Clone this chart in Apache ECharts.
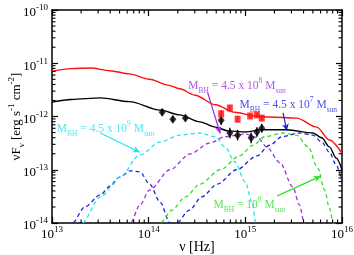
<!DOCTYPE html>
<html><head><meta charset="utf-8">
<script src="https://cdn.jsdelivr.net/npm/echarts@6/dist/echarts.min.js"></script>
<style>html,body{margin:0;padding:0;background:#fff}#c{width:354px;height:255px}</style>
</head><body><div id="c"></div>
<script>
// All values are log10(nu [Hz]) and log10(nuF_nu [erg s^-1 cm^-2])
const xTicks = [13, 14, 15, 16];
const yTicks = [-14, -13, -12, -11, -10];

const redNu = [13.00,13.20,13.40,13.60,13.80,14.01,14.20,14.32,14.48,14.69,14.89,15.10,15.25,15.53,15.74,15.87,16.00];
const redF  = [-11.15,-11.10,-11.09,-11.14,-11.20,-11.30,-11.41,-11.48,-11.60,-11.78,-11.92,-11.99,-12.01,-12.03,-12.20,-12.44,-12.69];

const blackNu = [13.00,13.20,13.50,13.80,14.12,14.32,14.53,14.69,14.82,15.00,15.17,15.43,15.70,15.79,15.87,15.94,16.00];
const blackF  = [-11.73,-11.68,-11.65,-11.72,-11.88,-11.97,-12.10,-12.20,-12.27,-12.29,-12.25,-12.25,-12.31,-12.40,-12.57,-12.78,-13.00];

const cyanNu = [13.28,13.31,13.50,13.70,13.91,14.12,14.32,14.53,14.69,14.79,14.89,15.00,15.07,15.11,15.13];
const cyanF  = [-14.1,-14.0,-13.51,-13.14,-12.72,-12.48,-12.35,-12.31,-12.38,-12.57,-12.85,-13.23,-13.62,-14.0,-14.1];

const blue1Nu = [13.19,13.21,13.34,13.50,13.60,13.70,13.81,13.91,14.01,14.12,14.22,14.24];
const blue1F  = [-14.1,-14.0,-13.70,-13.47,-13.31,-13.14,-13.02,-13.04,-13.27,-13.61,-14.0,-14.1];

const purpleNu = [13.79,13.81,13.91,14.01,14.22,14.43,14.63,14.79,15.00,15.13,15.22,15.36,15.49,15.56,15.61,15.62];
const purpleF  = [-14.1,-14.0,-13.66,-13.38,-13.00,-12.70,-12.50,-12.38,-12.33,-12.40,-12.57,-12.87,-13.32,-13.66,-14.0,-14.1];

const greenNu = [14.10,14.12,14.24,14.38,14.53,14.74,14.94,15.08,15.20,15.39,15.53,15.65,15.75,15.82,15.87,15.91,15.92];
const greenF  = [-14.1,-14.0,-13.76,-13.51,-13.27,-13.00,-12.74,-12.54,-12.38,-12.31,-12.35,-12.57,-12.97,-13.38,-13.72,-14.0,-14.1];

const blue2Nu = [14.27,14.29,14.42,14.55,14.71,14.91,15.12,15.25,15.38,15.56,15.70,15.79,15.87,15.94,16.00];
const blue2F  = [-14.1,-14.0,-13.76,-13.51,-13.27,-13.00,-12.74,-12.54,-12.38,-12.31,-12.35,-12.48,-12.67,-12.91,-13.23];

const ptBlackNu  = [14.14,14.25,14.38,14.75,14.84,14.92,15.06,15.12,15.17];
const ptBlackF   = [-11.92,-12.05,-12.03,-12.07,-12.31,-12.35,-12.40,-12.29,-12.22];
const ptBlackErr = [0.06,0.06,0.06,0.09,0.10,0.10,0.10,0.09,0.08];

const ptRedNu  = [14.75,14.84,14.92,15.05,15.12,15.17];
const ptRedF   = [-11.95,-11.84,-12.05,-11.99,-11.97,-12.03];
const ptRedErr = [0.07,0.05,0.06,0.04,0.04,0.05];

const annTexts = ['4.5 x 10|9', '4.5 x 10|8', '4.5 x 10|7', '10|8'];
const annLabelPos = [[13.05,-12.17],[14.41,-11.37],[14.94,-11.72],[14.67,-13.60]];
const annArrowFrom = [[13.50,-12.31],[14.61,-11.55],[15.39,-11.93],[15.33,-13.49]];
const annArrowTo   = [[13.91,-12.67],[14.74,-12.32],[15.43,-12.27],[15.78,-13.12]];

const C = {red:'#ff1010', black:'#000000', cyan:'#1ee6f0', blue:'#1f24d8', purple:'#9a30e0', green:'#2fe02f'};
const annColors = [C.cyan, C.purple, C.blue, C.green];
const FONT = 'Liberation Serif';

const zip = (a, b) => a.map((v, i) => [v, b[i]]);
const minorX = [], minorY = [];
for (let d = 13; d < 16; d++) for (let k = 2; k <= 9; k++) minorX.push([d + Math.log10(k), -14]);
for (let d = -14; d < -10; d++) for (let k = 2; k <= 9; k++) minorY.push([13, d + Math.log10(k)]);

const lblRich = {
  b: {fontFamily: FONT, fontSize: 13, lineHeight: 13, padding: [3,0,0,0], verticalAlign: 'top', color: '#000'},
  s: {fontFamily: FONT, fontSize: 9, lineHeight: 9, verticalAlign: 'top', color: '#000'}
};
const powFmt = v => '{b|10}{s|' + v + '}';

function curve(name, nu, f, color, dashed, width) {
  return {
    name, type: 'line', data: zip(nu, f), smooth: 0.3, smoothMonotone: 'x', showSymbol: false, symbol: 'none',
    clip: true, z: dashed ? 2 : 3,
    lineStyle: {color, width: width || 1.3, type: dashed ? [4, 3] : 'solid'}
  };
}

function errSeries(nu, f, err, color) {
  return {
    type: 'custom', z: 4, clip: true,
    data: nu.map((v, i) => [v, f[i] - err[i], f[i] + err[i]]),
    encode: {x: 0, y: [1, 2]},
    renderItem: (p, api) => {
      const a = api.coord([api.value(0), api.value(1)]);
      const b = api.coord([api.value(0), api.value(2)]);
      return {type: 'line', shape: {x1: a[0], y1: a[1], x2: b[0], y2: b[1]}, style: {stroke: color, lineWidth: 1.3}};
    }
  };
}

const annRich = col => ({
  m: {fontFamily: FONT, fontSize: 11.5, lineHeight: 12, padding: [3,0,0,0], verticalAlign: 'top', color: col},
  p: {fontFamily: FONT, fontSize: 7.5, lineHeight: 8, padding: [0,0,0,0], verticalAlign: 'top', color: col},
  d: {fontFamily: FONT, fontSize: 7.5, lineHeight: 8, padding: [10,0,0,0], verticalAlign: 'top', color: col}
});

const chart = echarts.init(document.getElementById('c'), null, {renderer: 'canvas'});
const option = {
  animation: false,
  backgroundColor: '#fff',
  grid: {left: 52, top: 10, right: 12, bottom: 32, containLabel: false, outerBoundsMode: 'none'},
  xAxis: [
    {type: 'value', min: 13, max: 16, interval: 1, position: 'bottom',
     name: 'ν [Hz]', nameLocation: 'middle', nameGap: 17, nameMoveOverlap: false,
     nameTextStyle: {fontFamily: FONT, fontSize: 14, color: '#000'},
     axisLine: {show: true, onZero: false, lineStyle: {color: '#000', width: 1.5}},
     axisTick: {inside: true, length: 6, lineStyle: {color: '#000', width: 1.2}},
     axisLabel: {formatter: powFmt, rich: lblRich, margin: 2},
     splitLine: {show: false}},
    {type: 'value', min: 13, max: 16, interval: 1, position: 'top',
     axisLine: {show: true, onZero: false, lineStyle: {color: '#000', width: 1.5}},
     axisTick: {inside: true, length: 6, lineStyle: {color: '#000', width: 1.2}},
     axisLabel: {show: false}, splitLine: {show: false}}
  ],
  yAxis: [
    {type: 'value', min: -14, max: -10, interval: 1, position: 'left',
     name: '{a|νF}{d|ν}{a| [erg s}{u|-1}{a| cm}{u|-2}{a|]}', nameLocation: 'middle', nameGap: 32, nameRotate: 90,
     nameMoveOverlap: false,
     nameTextStyle: {rich: {
       a: {fontFamily: FONT, fontSize: 13, lineHeight: 13, padding: [3,0,0,0], verticalAlign: 'top', color: '#000'},
       d: {fontFamily: FONT, fontSize: 9, lineHeight: 9, padding: [10,0,0,0], verticalAlign: 'top', color: '#000'},
       u: {fontFamily: FONT, fontSize: 9, lineHeight: 9, verticalAlign: 'top', color: '#000'}
     }},
     axisLine: {show: true, onZero: false, lineStyle: {color: '#000', width: 1.5}},
     axisTick: {inside: true, length: 6, lineStyle: {color: '#000', width: 1.2}},
     axisLabel: {formatter: powFmt, rich: lblRich, margin: 4},
     splitLine: {show: false}},
    {type: 'value', min: -14, max: -10, interval: 1, position: 'right',
     axisLine: {show: true, onZero: false, lineStyle: {color: '#000', width: 1.5}},
     axisTick: {inside: true, length: 6, lineStyle: {color: '#000', width: 1.2}},
     axisLabel: {show: false}, splitLine: {show: false}}
  ],
  series: [
    curve('blue1', blue1Nu, blue1F, C.blue, true),
    curve('cyan', cyanNu, cyanF, C.cyan, true),
    curve('purple', purpleNu, purpleF, C.purple, true),
    curve('green', greenNu, greenF, C.green, true),
    curve('blue2', blue2Nu, blue2F, C.blue, true),
    curve('red', redNu, redF, C.red, false, 1.4),
    curve('black', blackNu, blackF, C.black, false, 1.4),
    errSeries(ptBlackNu, ptBlackF, ptBlackErr, '#000'),
    errSeries(ptRedNu, ptRedF, ptRedErr, C.red),
    {type: 'scatter', z: 5, data: zip(ptBlackNu, ptBlackF), symbol: 'diamond', symbolSize: [7, 9],
     itemStyle: {color: '#000'}},
    {type: 'scatter', z: 5, data: zip(ptRedNu, ptRedF), symbol: 'rect', symbolSize: [6, 7],
     itemStyle: {color: C.red}},
    {type: 'custom', z: 6, data: minorX, encode: {x: 0, y: 1}, silent: true,
     renderItem: (p, api) => {
       const b = api.coord([api.value(0), -14]);
       const t = api.coord([api.value(0), -10]);
       return {type: 'group', children: [
         {type: 'line', shape: {x1: b[0], y1: b[1], x2: b[0], y2: b[1] - 3.5}, style: {stroke: '#000', lineWidth: 1.1}},
         {type: 'line', shape: {x1: t[0], y1: t[1], x2: t[0], y2: t[1] + 3.5}, style: {stroke: '#000', lineWidth: 1.1}}
       ]};
     }},
    {type: 'custom', z: 6, data: minorY, encode: {x: 0, y: 1}, silent: true,
     renderItem: (p, api) => {
       const l = api.coord([13, api.value(1)]);
       const r = api.coord([16, api.value(1)]);
       return {type: 'group', children: [
         {type: 'line', shape: {x1: l[0], y1: l[1], x2: l[0] + 3.5, y2: l[1]}, style: {stroke: '#000', lineWidth: 1.1}},
         {type: 'line', shape: {x1: r[0], y1: r[1], x2: r[0] - 3.5, y2: r[1]}, style: {stroke: '#000', lineWidth: 1.1}}
       ]};
     }},
    {type: 'line', data: [], z: 6,
     markLine: {silent: true, symbol: ['none', 'arrow'], symbolSize: [5, 7],
       label: {show: false},
       data: annArrowFrom.map((a, i) => [
         {coord: a, lineStyle: {color: annColors[i], width: 1.2, type: 'solid'}},
         {coord: annArrowTo[i]}
       ])}},
    {type: 'scatter', z: 10, silent: true, symbolSize: 0,
     data: annLabelPos.map((p, i) => {
       const [base, exp] = annTexts[i].split('|');
       return {value: p, label: {show: true, position: 'right', distance: 0,
         formatter: '{m|M}{d|BH}{m| = ' + base + '}{p|' + exp + '}{m| M}{d|sun}',
         rich: annRich(annColors[i])}};
     })}
  ]
};
chart.setOption(option);
</script>
</body></html>
